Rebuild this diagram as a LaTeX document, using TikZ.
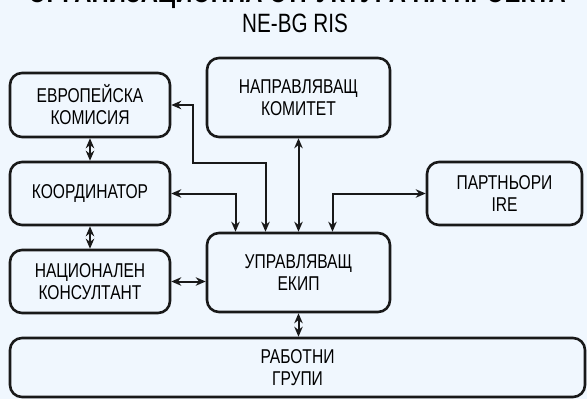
\documentclass[tikz,border=0pt]{standalone}
\usepackage{fontspec}
\setmainfont{Liberation Sans}[FakeStretch=0.78]
\usetikzlibrary{arrows.meta}
\definecolor{bgblue}{RGB}{240,247,254}
\definecolor{boxline}{RGB}{25,25,25}
\tikzset{
  orgbox/.style={draw=boxline, line width=2.6pt, rounded corners=12pt,
    align=center, inner sep=0pt, font=\fontsize{20}{22}\selectfont},
  link/.style={<->, line width=2pt, draw=boxline}
}
\begin{document}
\begin{tikzpicture}[x=1pt, y=-1pt, >={Stealth[length=10pt,width=8.5pt]}]
      % фон и граници на картината
      \fill[bgblue] (0,0) rectangle (587,399);
      \useasboundingbox (0,0) rectangle (587,399);

      % Заглавие
      \node[anchor=base] (title) at (297,2.5) {\fontsize{30.5}{32}\selectfont\bfseries ОРГАНИЗАЦИОННА СТРУКТУРА НА ПРОЕКТА};
      \node[anchor=base] (subtitle) at (295,32) {\fontsize{26.5}{28}\selectfont NE-BG RIS};

      % Лява колона
      \node[orgbox, minimum width=160pt, minimum height=64pt] (ec) at (90,105) {ЕВРОПЕЙСКА\\КОМИСИЯ};
      \node[orgbox, minimum width=160pt, minimum height=63pt] (coord) at (90,193.5) {КООРДИНАТОР};
      \node[orgbox, minimum width=160pt, minimum height=63pt] (nac) at (90,281.5) {НАЦИОНАЛЕН\\КОНСУЛТАНТ};

      % Среден и десен блок
      \node[orgbox, minimum width=183pt, minimum height=79pt] (nk) at (298.5,97.5) {НАПРАВЛЯВАЩ\\КОМИТЕТ};
      \node[orgbox, minimum width=183pt, minimum height=79pt] (ue) at (298.5,272.5) {УПРАВЛЯВАЩ\\ЕКИП};
      \node[orgbox, minimum width=155pt, minimum height=63pt] (part) at (504.5,193.5) {ПАРТНЬОРИ\\IRE};

      % Работни групи
      \node[orgbox, minimum width=575pt, minimum height=59pt] (rg) at (297.5,367.5) {РАБОТНИ\\ГРУПИ};

      % Връзки
      \draw[link] (ec) -- (coord);
      \draw[link] (coord) -- (nac);
      \draw[link] (nac.east) -- (nac.east -| ue.west);
      \draw[link] (ue.south) -- (ue.south |- rg.north);
      \draw[link] (nk.south) -- (ue.north);
      \draw[link] (ec.east) -| ++(22,58) -| ([xshift=-33pt]ue.north);
      \draw[link] (coord.east) -| ([xshift=-63pt]ue.north);
      \draw[link] (part.west) -| ([xshift=34pt]ue.north);
    \end{tikzpicture}
\end{document}
